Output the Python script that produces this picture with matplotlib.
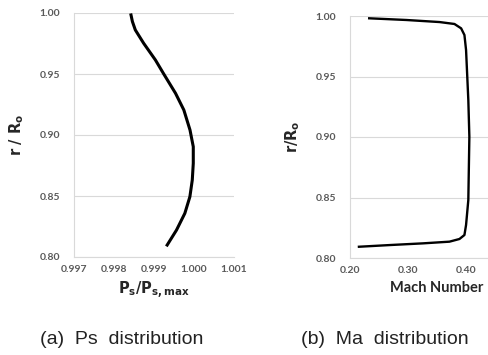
import matplotlib
matplotlib.use("Agg")
from matplotlib import pyplot as plt

# (a) static pressure distribution
ps_ratio = [0.998425, 0.998460, 0.998533, 0.998741, 0.999035, 0.999244, 0.999538, 0.999746, 0.999900,
            0.999982, 0.999982, 0.999957, 0.999897, 0.999771, 0.999563, 0.999329]
ps_r = [0.9984, 0.9930, 0.9861, 0.9752, 0.9615, 0.9500, 0.9342, 0.9205, 0.9041,
        0.8904, 0.8768, 0.8631, 0.8494, 0.8358, 0.8221, 0.8098]

# (b) Mach number distribution
mach = [0.2331, 0.2972, 0.3544, 0.3801, 0.3916, 0.3973, 0.4001, 0.4040, 0.4058,
        0.4040, 0.4001, 0.3973, 0.3887, 0.3715, 0.3257, 0.2686, 0.2154]
mach_r = [0.9981, 0.9967, 0.9950, 0.9934, 0.9898, 0.9843, 0.9719, 0.9306, 0.9002,
          0.8479, 0.8273, 0.8190, 0.8157, 0.8135, 0.8121, 0.8107, 0.8093]

y_ticks = [0.80, 0.85, 0.90, 0.95, 1.00]

plt.rcParams['font.family'] = ['Lato', 'DejaVu Sans']
fig = plt.figure(figsize=(4.89, 3.55), dpi=100)

tick_color = '#595959'
grid_color = '#d9d9d9'

def style(ax):
    ax.set_yticks(y_ticks)
    ax.set_yticklabels(['%.2f' % v for v in y_ticks])
    ax.set_ylim(0.80, 1.00)
    ax.grid(axis='y', color=grid_color, linewidth=0.8)
    ax.set_axisbelow(True)
    for s in ['top', 'right']:
        ax.spines[s].set_visible(False)
    for s in ['left', 'bottom']:
        ax.spines[s].set_color(grid_color)
        ax.spines[s].set_linewidth(0.8)
    ax.tick_params(axis='y', length=0, labelsize=7.5, labelcolor=tick_color, pad=10)
    ax.tick_params(axis='x', length=0, labelsize=7.5, labelcolor=tick_color, pad=6)
    for lbl in ax.get_xticklabels() + ax.get_yticklabels():
        lbl.set_fontweight('bold')

ax1 = fig.add_axes([74/489, 98/355, 160/489, 244/355])
ax1.plot(ps_ratio, ps_r, color='black', linewidth=2.2, solid_joinstyle='round')
ax1.set_xlim(0.997, 1.001)
ax1.set_xticks([0.997, 0.998, 0.999, 1.000, 1.001])
ax1.set_xticklabels(['0.997', '0.998', '0.999', '1.000', '1.001'])
style(ax1)
ax1.set_xlabel(r'$\mathbf{P_s/P_{s,max}}$', fontsize=10.5, color='#262626', labelpad=4)
ax1.set_ylabel(r'$\mathbf{r\ /\ R_o}$', fontsize=10.5, color='#262626', labelpad=10)

ax2 = fig.add_axes([350/489, 97/355, 174/489, 242/355])
ax2.plot(mach, mach_r, color='black', linewidth=1.7, solid_joinstyle='round')
ax2.set_xlim(0.20, 0.50)
ax2.set_xticks([0.20, 0.30, 0.40])
ax2.set_xticklabels(['0.20', '0.30', '0.40'])
style(ax2)
ax2.set_xlabel('Mach Number', fontsize=10.5, fontweight='bold', color='#262626', labelpad=4)
ax2.set_ylabel(r'$\mathbf{r/R_o}$', fontsize=10.5, color='#262626', labelpad=10)

cap_font = ['Liberation Sans', 'DejaVu Sans']
fig.text(122/489, 1 - 340/355, '(a)  Ps  distribution', ha='center', va='center',
         fontsize=14, color='#222222', family=cap_font)
fig.text(385/489, 1 - 340/355, '(b)  Ma  distribution', ha='center', va='center',
         fontsize=14, color='#222222', family=cap_font)

fig.savefig('out.png', dpi=100)
